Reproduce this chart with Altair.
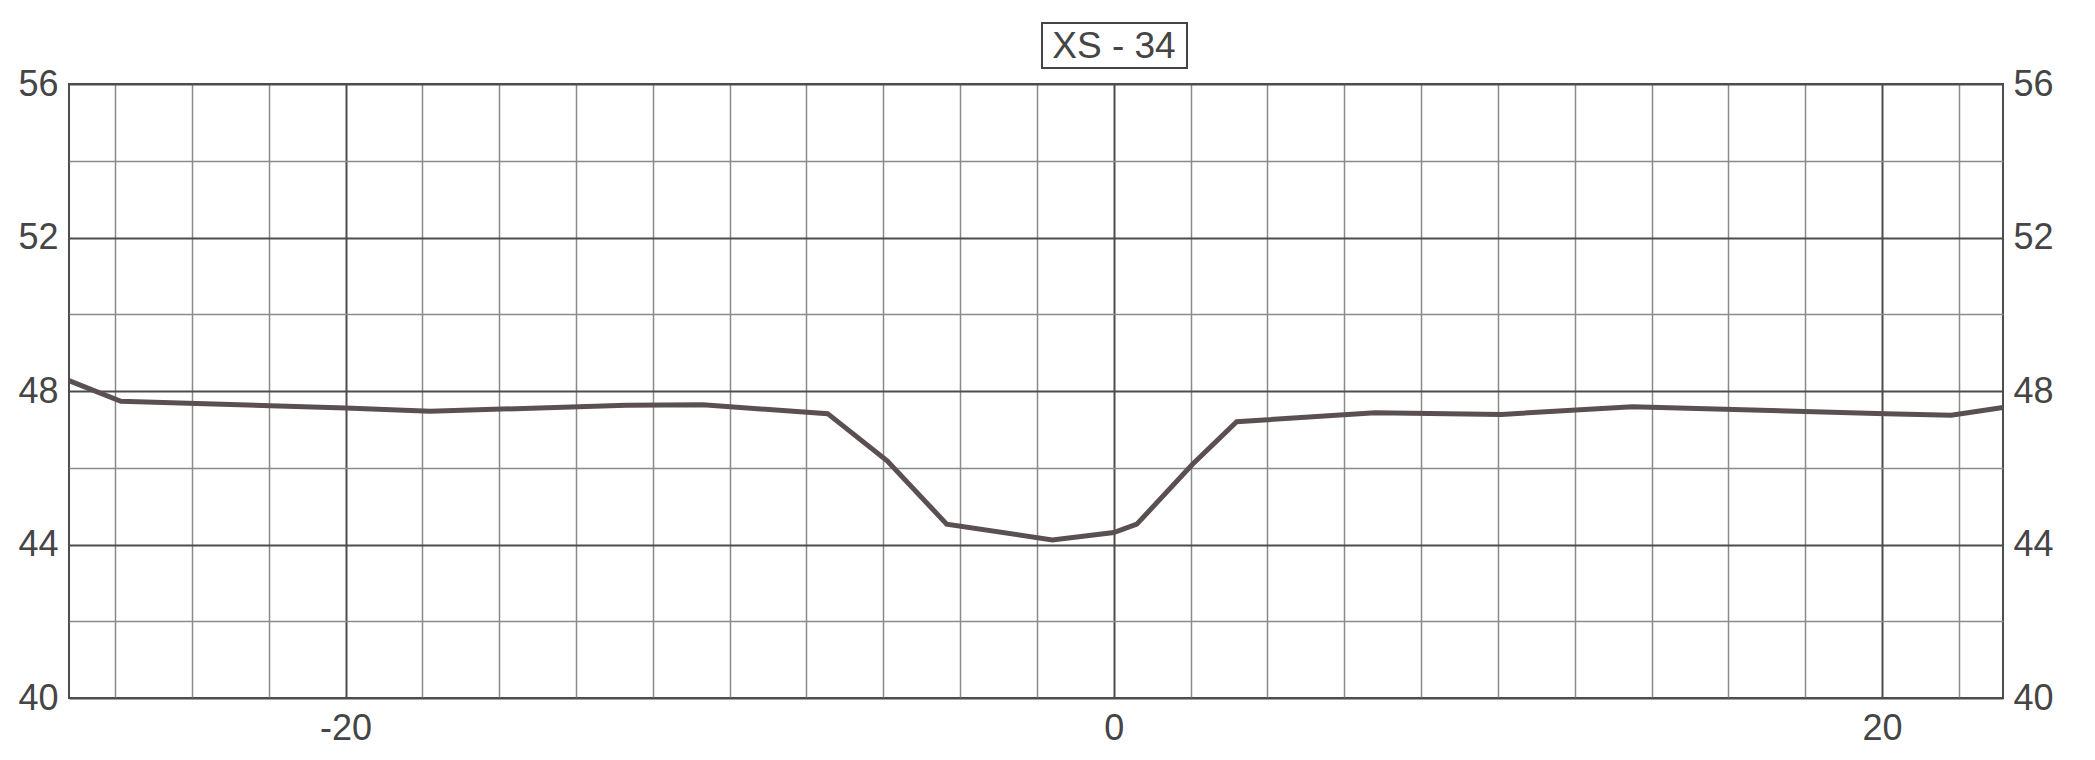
import altair as alt
import pandas as pd

# Cross-section profile XS - 34 (station vs elevation)
station = [-27.2, -25.85, -20.0, -17.8, -12.7, -10.7, -7.45, -5.9, -4.35, -1.6,
           0.0, 0.6, 2.05, 3.2, 6.8, 10.1, 13.5, 20.1, 21.8, 23.15]
elevation = [48.27, 47.73, 47.56, 47.47, 47.63, 47.64, 47.41, 46.18, 44.53, 44.12,
             44.31, 44.53, 46.09, 47.2, 47.43, 47.39, 47.59, 47.41, 47.37, 47.57]

title_text = "XS - 34"
x_domain = [-27.2, 23.15]
y_domain = [40, 56]
x_grid = list(range(-26, 23, 2))
y_grid = list(range(40, 57, 2))
y_labels = [40, 44, 48, 52, 56]

df = pd.DataFrame({"station": station, "elevation": elevation})

FONT = "Liberation Sans"
LABEL_COLOR = "#454545"
MAJOR = "#4d4d4d"
MINOR = "#8a8a8a"
LINE = "#5a5052"

xs = alt.Scale(domain=x_domain, nice=False, zero=False)
ys = alt.Scale(domain=y_domain, nice=False, zero=False)

x_axis = alt.Axis(
    values=x_grid, title=None, ticks=False, domain=False,
    labelExpr="datum.value % 20 == 0 ? toString(datum.value) : ''",
    labelFont=FONT, labelFontSize=36, labelColor=LABEL_COLOR,
    labelPadding=13, labelFlush=False, labelOverlap=False,
    grid=True,
    gridColor={"condition": {"test": "datum.value % 20 == 0", "value": MAJOR}, "value": MINOR},
    gridWidth={"condition": {"test": "datum.value % 20 == 0", "value": 2}, "value": 1.5},
)
y_axis_left = alt.Axis(
    values=y_grid, title=None, ticks=False, domain=False, orient="left",
    labelExpr="datum.value % 4 == 0 ? datum.label : ''",
    labelFont=FONT, labelFontSize=36, labelColor=LABEL_COLOR,
    labelPadding=11, labelFlush=False, labelOverlap=False,
    grid=True,
    gridColor={"condition": {"test": "datum.value % 4 == 0", "value": MAJOR}, "value": MINOR},
    gridWidth={"condition": {"test": "datum.value % 4 == 0", "value": 2}, "value": 1.5},
)
y_axis_right = alt.Axis(
    values=y_labels, title=None, ticks=False, domain=False, orient="right",
    labelFont=FONT, labelFontSize=36, labelColor=LABEL_COLOR,
    labelPadding=10, labelFlush=False, labelOverlap=False, grid=False,
)

line = alt.Chart(df).mark_line(color=LINE, strokeWidth=5, strokeJoin="miter").encode(
    x=alt.X("station:Q", scale=xs, axis=x_axis),
    y=alt.Y("elevation:Q", scale=ys, axis=y_axis_left),
)
line_right = alt.Chart(df).mark_line(opacity=0).encode(
    x=alt.X("station:Q", scale=xs, axis=x_axis),
    y=alt.Y("elevation:Q", scale=ys, axis=y_axis_right),
)

title_df = pd.DataFrame({"label": [title_text]})
title_box = alt.Chart(title_df).mark_rect(fill="white", stroke="#444444", strokeWidth=2).encode(
    x=alt.value(973), x2=alt.value(1118), y=alt.value(-61), y2=alt.value(-16)
)
title_label = alt.Chart(title_df).mark_text(
    font=FONT, fontSize=37, color=LABEL_COLOR, align="center", baseline="alphabetic"
).encode(x=alt.value(1045), y=alt.value(-26), text="label:N")

chart = (
    alt.layer(line, line_right, title_box, title_label)
    .resolve_axis(y="independent")
    .properties(
        width=1934, height=614,
        padding={"top": 14, "left": 9, "right": 10, "bottom": 10},
        background="white",
    )
    .configure_view(stroke=MAJOR, strokeWidth=2)
)

chart.save("out.html", embed_options={"renderer": "svg", "actions": False})
